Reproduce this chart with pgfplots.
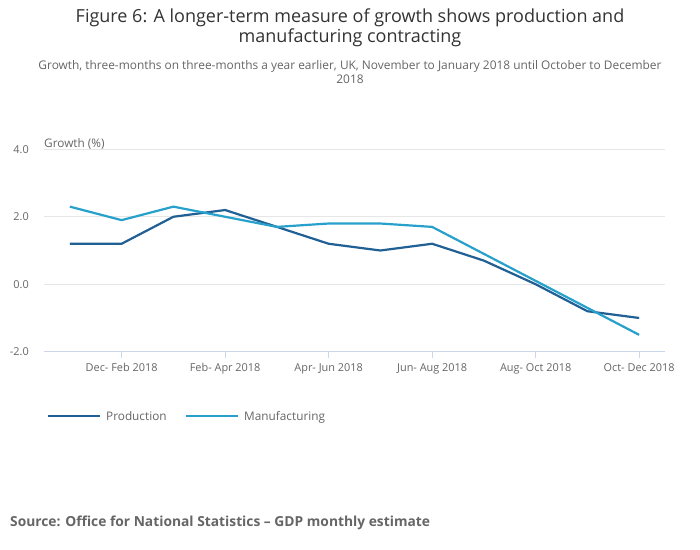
\documentclass[border=0pt]{standalone}
\usepackage{pgfplots}
\pgfplotsset{compat=1.18}
\usepackage{fontspec}
\setmainfont{Open Sans}
\definecolor{prod}{HTML}{206095}
\definecolor{manu}{HTML}{27A0CC}
\definecolor{gridc}{HTML}{E6E6E6}
\definecolor{axc}{HTML}{CCD6EB}
\definecolor{txt}{HTML}{666666}
\definecolor{ttl}{HTML}{333333}
\begin{document}
\begin{tikzpicture}
\path[use as bounding box,fill=white] (0pt,0pt) rectangle (700pt,549pt);
\node[anchor=center,align=center,text=ttl,font=\fontsize{18}{20}\selectfont] at (350pt,521pt) {Figure 6: A longer-term measure of growth shows production and\\manufacturing contracting};
\node[anchor=center,align=center,text=txt,font=\fontsize{11.9}{14}\selectfont] at (350pt,477pt) {Growth, three-months on three-months a year earlier, UK, November to January 2018 until October to December\\2018};
\begin{axis}[
  at={(44pt,197.3pt)}, anchor=south west,
  width=621pt, height=202.4pt, scale only axis,
  xmin=-0.5, xmax=11.5, ymin=-2, ymax=4,
  ytick={-2,0,2,4},
  yticklabels={-2.0,0.0,2.0,4.0},
  xtick={1,3,5,7,9,11},
  xticklabels={Dec- Feb 2018,Feb- Apr 2018,Apr- Jun 2018,Jun- Aug 2018,Aug- Oct 2018,Oct- Dec 2018},
  ymajorgrids, grid style={gridc,line width=0.8pt},
  axis x line=bottom, axis y line=left,
  x axis line style={draw=axc,line width=0.8pt,-},
  y axis line style={draw=none},
  xtick style={draw=axc,line width=0.8pt},
  ytick style={draw=none},
  major tick length=6pt,
  xtick align=outside,
  tick label style={text=txt,font=\fontsize{10.9}{12}\selectfont},
  yticklabel style={inner sep=0pt,xshift=-12pt},
  xticklabel style={yshift=-2pt},
  clip=false,
]
\addplot[prod,line width=2.2pt,line join=round] coordinates {
(0,1.2)(1,1.2)(2,2.0)(3,2.2)(4,1.7)(5,1.2)(6,1.0)(7,1.2)(8,0.7)(9,0.0)(10,-0.8)(11,-1.0)};
\addplot[manu,line width=2.2pt,line join=round] coordinates {
(0,2.3)(1,1.9)(2,2.3)(3,2.0)(4,1.7)(5,1.8)(6,1.8)(7,1.7)(8,0.9)(9,0.1)(10,-0.7)(11,-1.5)};
\end{axis}
\node[anchor=mid west,text=txt,font=\fontsize{11.8}{13}\selectfont,inner sep=0pt] at (44pt,404pt) {Growth (\%)};
\draw[prod,line width=2.4pt] (48pt,133pt) -- (100pt,133pt);
\node[anchor=mid west,text=txt,font=\fontsize{11.8}{13}\selectfont,inner sep=0pt] at (106pt,131pt) {Production};
\draw[manu,line width=2.4pt] (186pt,133pt) -- (238pt,133pt);
\node[anchor=mid west,text=txt,font=\fontsize{11.8}{13}\selectfont,inner sep=0pt] at (244pt,131pt) {Manufacturing};
\node[anchor=mid west,text=txt,font=\bfseries\fontsize{13.8}{15}\selectfont,inner sep=0pt] at (10pt,25pt) {Source: Office for National Statistics – GDP monthly estimate};
\end{tikzpicture}
\end{document}
